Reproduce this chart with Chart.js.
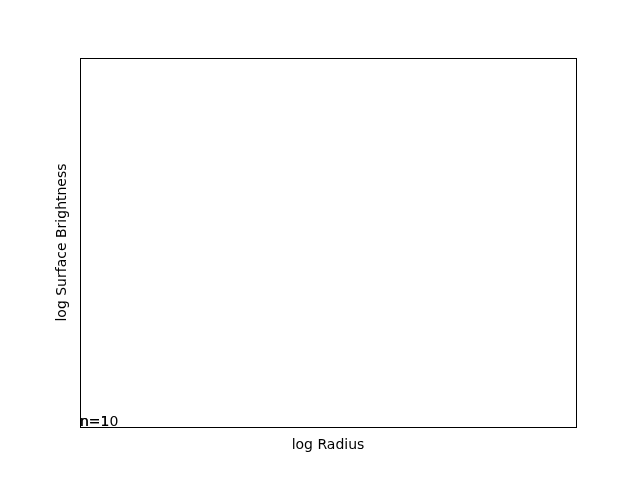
<!DOCTYPE html>
<html>
<head>
<meta charset="utf-8">
<script src="https://cdn.jsdelivr.net/npm/chart.js@4"></script>
<style>
html,body{margin:0;padding:0;background:#fff;}
#wrap{width:640px;height:480px;}
</style>
</head>
<body>
<div id="wrap"><canvas id="c" width="640" height="480"></canvas></div>
<script>
// Labels placed on the (empty) plot
const noteLabels = ["n=1", "n=10"];
const noteX = [0, 0];
const noteY = [0, 0];
// Axis ranges (no ticks shown)
const xRange = [0, 1];
const yRange = [0, 1];
const xTitle = "log Radius";
const yTitle = "log Surface Brightness";

const FONT = "'DejaVu Sans', sans-serif";

const frame = {
  id: 'frame',
  afterDraw(chart) {
    const {ctx, chartArea: a} = chart;
    ctx.save();
    ctx.strokeStyle = '#000';
    ctx.lineWidth = 1;
    ctx.strokeRect(Math.round(a.left) + 0.5, Math.round(a.top) + 0.5,
                   Math.round(a.right - a.left), Math.round(a.bottom - a.top));
    ctx.fillStyle = '#000';
    ctx.font = "14px " + FONT;
    ctx.textAlign = 'left';
    ctx.textBaseline = 'alphabetic';
    noteLabels.forEach((t, i) => {
      const px = chart.scales.x.getPixelForValue(noteX[i]);
      const py = chart.scales.y.getPixelForValue(noteY[i]);
      ctx.fillText(t, px, py - 1);
    });
    ctx.restore();
  }
};

new Chart(document.getElementById('c'), {
  type: 'scatter',
  data: { datasets: [{ data: [], showLine: false }] },
  options: {
    responsive: false,
    animation: false,
    devicePixelRatio: 1,
    layout: { padding: { top: 58, right: 64, left: 0, bottom: 0 } },
    plugins: { legend: { display: false }, tooltip: { enabled: false } },
    scales: {
      x: {
        type: 'linear', min: xRange[0], max: xRange[1],
        ticks: { display: false },
        grid: { display: false },
        border: { display: false },
        title: { display: true, text: xTitle, color: '#000', font: { family: FONT, size: 14 }, padding: { top: 0, bottom: 26 } },
        afterFit(s) { s.height = 53; }
      },
      y: {
        type: 'linear', min: yRange[0], max: yRange[1],
        ticks: { display: false },
        grid: { display: false },
        border: { display: false },
        title: { display: true, text: yTitle, color: '#000', font: { family: FONT, size: 14 }, padding: { top: 54, bottom: 0 } },
        afterFit(s) { s.width = 80; }
      }
    }
  },
  plugins: [frame]
});
</script>
</body>
</html>
